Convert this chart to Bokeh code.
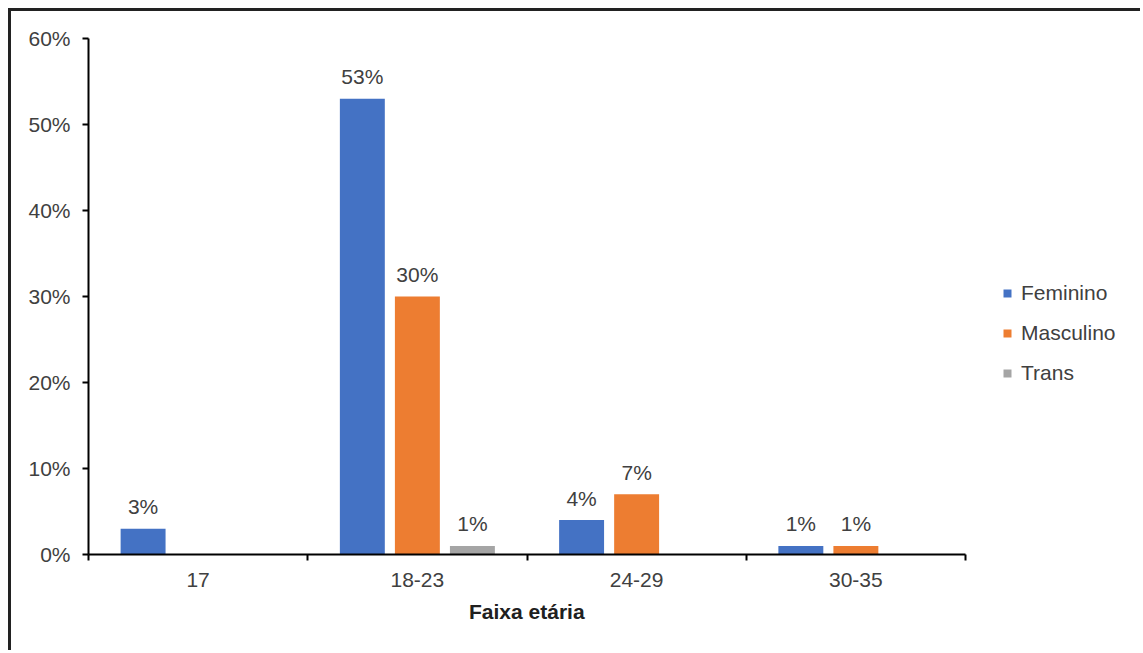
from bokeh.plotting import figure
from bokeh.models import Range1d, FixedTicker, Legend, LegendItem, ColumnDataSource, Title
from bokeh.core.properties import value
from bokeh.embed import file_html
from bokeh.resources import INLINE

# ---- data ----
categories = ["17", "18-23", "24-29", "30-35"]
series_names = ["Feminino", "Masculino", "Trans"]
feminino = [3, 53, 4, 1]
masculino = [None, 30, 7, 1]
trans = [None, 1, None, None]
y_ticks = [0, 10, 20, 30, 40, 50, 60]
y_tick_labels = ["0%", "10%", "20%", "30%", "40%", "50%", "60%"]
x_axis_title = "Faixa etária"

# ---- style ----
colors = ["#4472C4", "#ED7D31", "#A5A5A5"]
FONT = "Liberation Sans"
TEXT = "#404040"
FS = "21px"
offsets = [-0.251, 0.0, 0.251]
bar_w = 0.205

W, H = 1132, 642
ML, MT, MR, MB = 77, 27, 5, 99
axis_px = 877                      # width of the category axis in pixels
frame_w = W - ML - MR
n = len(categories)
x_end = frame_w / (axis_px / n)
title_w = 116                      # approx. rendered width of the axis title

p = figure(width=W, height=H,
           x_range=Range1d(0, x_end), y_range=Range1d(y_ticks[0], y_ticks[-1]),
           output_backend="svg", toolbar_location=None,
           min_border_left=ML, min_border_right=MR, min_border_top=MT, min_border_bottom=MB)
p.outline_line_color = None
p.xgrid.visible = False
p.ygrid.visible = False
p.background_fill_color = "white"
p.border_fill_color = "white"
p.styles = {"margin-left": "8px", "margin-top": "8px",
            "border-left": "3px solid #222222", "border-top": "3px solid #222222"}

items = []
for name, vals, col, off in zip(series_names, [feminino, masculino, trans], colors, offsets):
    xs = [j + 0.5 + off for j, v in enumerate(vals) if v is not None]
    tops = [v for v in vals if v is not None]
    labels = [f"{v}%" for v in tops]
    src = ColumnDataSource(dict(x=xs, top=tops, label=labels))
    r = p.vbar(x="x", top="top", width=bar_w, bottom=0, source=src,
               fill_color=col, line_color=None)
    p.text(x="x", y="top", text="label", source=src, text_align="center",
           text_baseline="alphabetic", y_offset=-22, text_font=value(FONT),
           text_font_size=FS, text_color=TEXT)
    items.append(LegendItem(label=name, renderers=[r]))

legend = Legend(items=items, location=(914, 169), border_line_color=None,
                background_fill_alpha=0, glyph_width=10, glyph_height=10,
                label_height=10, spacing=16, padding=10, label_standoff=9,
                label_text_font=FONT, label_text_font_size=FS,
                label_text_color=TEXT, margin=0)
p.add_layout(legend)

# x axis: labels at category centres, ticks at boundaries
xa = p.xaxis[0]
xa.bounds = (0, n)
xa.ticker = FixedTicker(ticks=[j + 0.5 for j in range(n)],
                        minor_ticks=list(range(n + 1)))
xa.major_label_overrides = {j + 0.5: c for j, c in enumerate(categories)}
xa.major_tick_out = 0
xa.major_tick_in = 0
xa.minor_tick_out = 6
xa.minor_tick_in = 0
xa.minor_tick_line_color = "black"
xa.minor_tick_line_width = 2
xa.axis_line_color = "black"
xa.axis_line_width = 2
xa.major_label_standoff = 12
xa.major_label_text_font = FONT
xa.major_label_text_font_size = FS
xa.major_label_text_color = TEXT

# axis title centred under the category axis
xt = Title(text=x_axis_title, align="left", offset=axis_px / 2 - title_w / 2,
           text_font=FONT, text_font_size=FS, text_font_style="bold",
           text_color="#202020", standoff=16)
p.add_layout(xt, "below")

ya = p.yaxis[0]
ya.ticker = FixedTicker(ticks=y_ticks, minor_ticks=[])
ya.major_label_overrides = dict(zip(y_ticks, y_tick_labels))
ya.major_tick_out = 6
ya.major_tick_in = 0
ya.major_tick_line_color = "black"
ya.major_tick_line_width = 2
ya.axis_line_color = "black"
ya.axis_line_width = 2
ya.major_label_standoff = 12
ya.major_label_text_font = FONT
ya.major_label_text_font_size = FS
ya.major_label_text_color = TEXT

open("out.html", "w").write(file_html(p, INLINE))
